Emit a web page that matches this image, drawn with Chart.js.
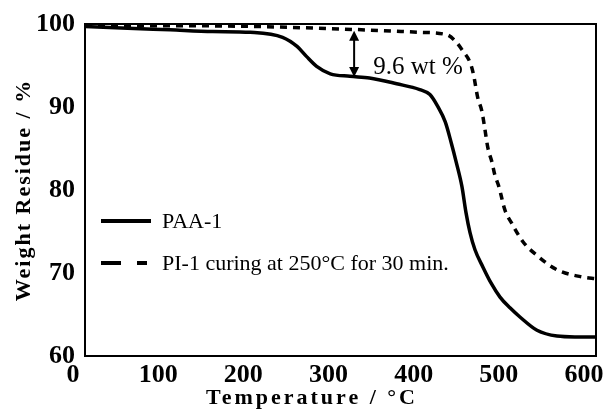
<!DOCTYPE html>
<html>
<head>
<meta charset="utf-8">
<script src="https://cdn.jsdelivr.net/npm/chart.js@4.4.1/dist/chart.umd.min.js"></script>
<style>
  html, body { margin: 0; padding: 0; background: #fff; }
  #wrap { width: 613px; height: 409px; }
</style>
</head>
<body>
<div id="wrap"><canvas id="tga"></canvas></div>
<script>
// TGA curves (temperature in °C, weight residue in %)
const paaTemp = [0, 50, 100, 150, 194, 232, 249, 260, 272, 288, 311, 334, 366, 393, 405, 414, 423, 430, 436, 442.6, 447.3, 452, 457.9, 467.3, 476.7, 487.3, 499, 510.7, 530.7, 554.2, 575.3, 600];
const paaWeight = [99.7, 99.5, 99.3, 99.1, 99.0, 98.4, 97.3, 96.1, 94.9, 94.0, 93.7, 93.5, 92.8, 92.1, 91.5, 90.1, 88.2, 85.7, 83.3, 80.4, 77.3, 74.9, 72.8, 70.7, 68.8, 67.1, 65.8, 64.7, 63.1, 62.4, 62.3, 62.3];

const piTemp = [0, 100, 200, 300, 350, 393, 425, 436, 444, 452, 456, 461, 466, 469, 473, 478, 481, 486, 493, 501, 514, 532, 554, 585, 600];
const piWeight = [99.8, 99.8, 99.7, 99.4, 99.2, 99.0, 98.7, 97.8, 96.7, 95.4, 94.0, 91.2, 89.5, 87.7, 85.1, 83.3, 81.9, 80.4, 77.6, 76.0, 73.8, 72.0, 70.4, 69.5, 69.3];

const seriesNames = ['PAA-1', 'PI-1 curing at 250°C for 30 min.'];
const xTicks = [0, 100, 200, 300, 400, 500, 600];
const yTicks = [60, 70, 80, 90, 100];

// weight-loss marker between the two curves
const lossLabel = '9.6 wt %';
const lossTemp = 316;
const lossTop = 99.2;
const lossBottom = 93.6;

const SERIF = '"Liberation Serif", "Times New Roman", serif';
Chart.defaults.font.family = SERIF;
Chart.defaults.color = '#000';

const toPoints = (xs, ys) => xs.map((x, i) => ({ x, y: ys[i] }));

function arrowHead(ctx, x, y, dir) {
  ctx.beginPath();
  ctx.moveTo(x, y);
  ctx.lineTo(x - 5, y + dir * 10);
  ctx.lineTo(x + 5, y + dir * 10);
  ctx.closePath();
  ctx.fill();
}

const decorations = {
  id: 'decorations',
  afterDatasetsDraw(chart) {
    const { ctx, chartArea: a, scales: { x, y } } = chart;
    ctx.save();

    // frame
    ctx.strokeStyle = '#000';
    ctx.lineWidth = 2;
    ctx.strokeRect(a.left, a.top, a.right - a.left, a.bottom - a.top);

    // double arrow + label
    const ax = x.getPixelForValue(lossTemp);
    const y1 = y.getPixelForValue(lossTop);
    const y2 = y.getPixelForValue(lossBottom);
    ctx.fillStyle = '#000';
    ctx.lineWidth = 2;
    ctx.beginPath();
    ctx.moveTo(ax, y1 + 6);
    ctx.lineTo(ax, y2 - 6);
    ctx.stroke();
    arrowHead(ctx, ax, y1, 1);
    arrowHead(ctx, ax, y2, -1);
    ctx.font = '25px ' + SERIF;
    ctx.textAlign = 'left';
    ctx.textBaseline = 'alphabetic';
    ctx.fillText(lossLabel, ax + 19, y2 - 3);

    // legend
    const lx = a.left + 16;
    const rows = [a.top + 197, a.top + 239];
    ctx.lineWidth = 4;
    ctx.beginPath();
    ctx.moveTo(lx, rows[0]);
    ctx.lineTo(lx + 50, rows[0]);
    ctx.stroke();
    ctx.beginPath();
    ctx.moveTo(lx, rows[1]);
    ctx.lineTo(lx + 20, rows[1]);
    ctx.moveTo(lx + 36, rows[1]);
    ctx.lineTo(lx + 46, rows[1]);
    ctx.stroke();
    ctx.font = '22px ' + SERIF;
    ctx.textBaseline = 'middle';
    seriesNames.forEach((name, i) => ctx.fillText(name, lx + 61, rows[i] + 1));

    // axis titles, letter-spaced bold
    ctx.font = 'bold 22px ' + SERIF;
    ctx.textAlign = 'center';
    ctx.letterSpacing = '3px';
    ctx.fillText('Temperature / °C', 312, 398);
    ctx.translate(24, (a.top + a.bottom) / 2);
    ctx.rotate(-Math.PI / 2);
    ctx.letterSpacing = '2px';
    ctx.fillText('Weight Residue / %', 0, 0);
    ctx.restore();
  }
};

new Chart(document.getElementById('tga'), {
  type: 'line',
  data: {
    datasets: [
      {
        label: seriesNames[0],
        data: toPoints(paaTemp, paaWeight),
        borderColor: '#000',
        borderWidth: 3.5,
        pointRadius: 0,
        cubicInterpolationMode: 'monotone'
      },
      {
        label: seriesNames[1],
        data: toPoints(piTemp, piWeight),
        borderColor: '#000',
        borderWidth: 3.5,
        borderDash: [7, 6],
        pointRadius: 0,
        cubicInterpolationMode: 'monotone'
      }
    ]
  },
  options: {
    responsive: true,
    maintainAspectRatio: false,
    animation: false,
    layout: { padding: { top: 24, right: 17, left: 0, bottom: 0 } },
    plugins: { legend: { display: false }, tooltip: { enabled: false } },
    scales: {
      x: {
        type: 'linear',
        min: 0,
        max: 600,
        grid: { display: false, drawTicks: false },
        border: { display: false },
        afterBuildTicks: (s) => { s.ticks = xTicks.map(v => ({ value: v })); },
        afterFit: (s) => { s.height = 53; s.paddingLeft = 0; s.paddingRight = 0; },
        ticks: { font: { size: 26, weight: 'bold' }, padding: 4, maxRotation: 0, labelOffset: -12 }
      },
      y: {
        min: 60,
        max: 100,
        grid: { display: false, drawTicks: false },
        border: { display: false },
        afterBuildTicks: (s) => { s.ticks = yTicks.map(v => ({ value: v })); },
        afterFit: (s) => { s.width = 85; s.paddingTop = 0; s.paddingBottom = 0; },
        ticks: { font: { size: 26, weight: 'bold' }, padding: 10 }
      }
    }
  },
  plugins: [decorations]
});
</script>
</body>
</html>
